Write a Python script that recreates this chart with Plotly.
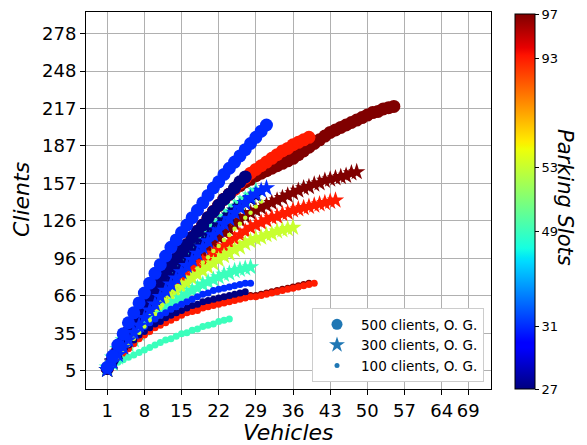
import plotly.graph_objects as go
import numpy as np

# ---------------- data ----------------
x_ticks = [1, 8, 15, 22, 29, 36, 43, 50, 57, 64, 69]
y_tickvals = list(np.linspace(5, 278, 10))
y_ticktext = ["5", "35", "66", "96", "126", "157", "187", "217", "248", "278"]

parking_labels = [27, 31, 49, 53, 93, 97]
parking_pos = [0.0, 0.1665, 0.421, 0.592, 0.881, 1.0]   # position of each label on the colour bar

# clients served for vehicles = 1, 2, 3, ...
c500_p97 = [7, 14, 22, 29, 37, 44, 51, 58, 65, 71, 78, 84, 90, 96, 102, 107, 113, 118, 123, 129, 134, 139, 144,
            148, 152, 155, 158, 160, 163, 165, 167, 169, 171, 173, 175, 177, 180, 183, 186, 189, 192, 195, 198,
            200, 202, 204, 206, 208, 210, 212, 214, 215, 217, 218, 219]
c500_p93 = [7, 14, 22, 29, 37, 44, 51, 58, 65, 71, 78, 84, 90, 96, 102, 107, 113, 118, 123, 129, 134, 139, 144,
            148, 152, 157, 161, 165, 168, 171, 174, 177, 180, 183, 185, 188, 190, 192, 194]
c500_p27 = [7, 14, 22, 29, 37, 44, 51, 58, 65, 71, 78, 84, 90, 96, 102, 107, 113, 118, 123, 129, 134, 139, 144,
            148, 153, 158, 162]
c500_p31 = [8, 17, 26, 35, 44, 52, 60, 68, 76, 84, 91, 98, 105, 111, 117, 123, 129, 135, 141, 147, 153, 158, 164,
            169, 174, 179, 184, 189, 194, 199, 204]

c300_p97 = [6, 12, 19, 25, 31, 37, 43, 49, 54, 60, 65, 70, 75, 80, 84, 89, 93, 97, 101, 105, 109, 113, 117, 120,
            124, 127, 130, 133, 135, 137, 139, 141, 143, 145, 147, 149, 151, 153, 154, 156, 157, 159, 160, 161,
            162, 163, 165, 166]
c300_p93 = [6, 12, 18, 24, 30, 35, 41, 46, 51, 56, 61, 65, 70, 74, 78, 82, 86, 89, 93, 96, 100, 103, 106, 109,
            112, 115, 118, 121, 123, 125, 127, 129, 130, 132, 133, 135, 136, 137, 138, 139, 140, 141, 142, 143]
c300_p53 = [6, 12, 17, 23, 28, 33, 38, 43, 48, 52, 57, 61, 65, 69, 73, 76, 80, 83, 86, 89, 92, 95, 98, 100, 103,
            105, 108, 110, 112, 113, 115, 116, 118, 119, 120, 121]
c300_p49 = [6, 11, 16, 21, 26, 30, 35, 39, 43, 47, 51, 54, 58, 61, 64, 67, 70, 72, 75, 77, 79, 81, 83, 84, 86, 87,
            88, 89]
c300_p27 = [6, 13, 20, 27, 34, 40, 46, 52, 58, 64, 70, 75, 81, 86, 91, 96, 101, 106, 110, 115, 119, 123, 127, 131,
            135, 138, 141, 144, 147]
c300_p49b = [8, 16, 23, 30, 37, 43, 49, 55, 61, 67, 73, 78, 84, 89, 94, 99, 104, 109, 113, 118, 122, 126, 130,
             134, 138, 141, 144, 147, 151]
c300_p31 = [6, 12, 18, 24, 30, 36, 42, 48, 54, 59, 65, 70, 75, 80, 85, 90, 95, 100, 105, 110, 115, 119, 124, 128,
            133, 137, 141, 145, 148, 151, 153]

c100_p97 = [8, 12, 16, 20, 24, 28, 32, 35, 38, 41, 43, 45, 47, 49, 51, 53, 54, 55, 57, 58, 59, 60, 61, 62, 63, 64,
            65, 66, 66, 67, 68, 69, 70, 71, 72, 73, 74, 75, 76]
c100_p93 = [7, 11, 15, 19, 23, 27, 31, 34, 37, 40, 42, 44, 46, 48, 50, 52, 53, 54, 56, 57, 58, 59, 60, 61, 62, 63,
            64, 65, 65, 66, 67, 68, 69, 70, 71, 72, 73, 74, 75, 76]
c100_p27 = [7, 12, 17, 22, 26, 30, 34, 37, 40, 43, 45, 48, 50, 52, 54, 56, 58, 59, 61, 62, 63, 64, 65, 66, 67, 68,
            69]
c100_p31 = [8, 14, 19, 24, 29, 33, 37, 41, 44, 47, 50, 52, 55, 57, 59, 61, 63, 65, 67, 68, 70, 71, 72, 73, 74, 75,
            76, 76]
c100_p49 = [6, 9, 12, 14, 16, 18, 20, 22, 24, 26, 28, 30, 31, 33, 35, 36, 38, 39, 41, 42, 43, 45, 46, 47]
c_p53_dots = [6, 11, 16, 21, 26, 31, 36, 41, 46, 51, 56, 61, 66, 70, 75, 79, 84, 88, 93, 97, 102, 106, 111, 115,
              120, 124, 129, 133, 138, 142]

legend_labels = ["500 clients, O. G.", "300 clients, O. G.", "100 clients, O. G."]

# ---------------- styling ----------------
jet = [
    [0.0, "rgb(0,0,128)"], [0.11, "rgb(0,0,255)"], [0.125, "rgb(0,0,255)"],
    [0.34, "rgb(0,219,255)"], [0.35, "rgb(0,230,247)"], [0.375, "rgb(21,255,226)"],
    [0.64, "rgb(239,255,8)"], [0.65, "rgb(247,245,0)"], [0.66, "rgb(255,236,0)"],
    [0.89, "rgb(255,19,0)"], [0.91, "rgb(232,0,0)"], [1.0, "rgb(128,0,0)"],
]
pos_of = dict(zip(parking_labels, parking_pos))

BIG, STAR, SMALL, DOT = 13, 13, 7, 4.5

series = [  # (clients, parking slots, marker symbol, size) -- drawing order bottom -> top
    (c500_p97, 97, "circle", BIG),
    (c500_p93, 93, "circle", BIG),
    (c300_p97, 97, "star", STAR),
    (c300_p93, 93, "star", STAR),
    (c300_p53, 53, "star", STAR),
    (c300_p49, 49, "star", STAR),
    (c100_p97, 97, "circle", SMALL),
    (c100_p93, 93, "circle", SMALL),
    (c100_p27, 27, "circle", SMALL),
    (c100_p31, 31, "circle", SMALL),
    (c100_p49, 49, "circle", SMALL),
    (c300_p49b, 49, "star", STAR),
    (c300_p27, 27, "star", STAR),
    (c500_p27, 27, "circle", BIG),
    (c_p53_dots, 53, "circle", DOT),
    (c300_p31, 31, "star", STAR),
    (c500_p31, 31, "circle", BIG),
]

# plot area in pixels: x 86..491, y 12..389
L, R, T, B = 86, 491, 12, 389
PW, PH = R - L, B - T

fig = go.Figure()
first = True
for clients, slots, sym, size in series:
    vehicles = list(range(1, len(clients) + 1))
    marker = dict(symbol=sym, size=size, color=[pos_of[slots]] * len(clients),
                  colorscale=jet, cmin=0, cmax=1, line=dict(width=0), opacity=1)
    if first:
        marker.update(showscale=True, colorbar=dict(
            x=(515 - L) / PW, xanchor="left", xref="paper", xpad=0, ypad=0,
            y=(B - 389) / PH, yanchor="bottom", yref="paper", len=(389 - 14) / PH, lenmode="fraction",
            thickness=20, outlinewidth=1, outlinecolor="black",
            tickvals=parking_pos, ticktext=[str(v) for v in parking_labels],
            ticks="outside", ticklen=4, tickcolor="black",
            tickfont=dict(family="DejaVu Sans", size=13, color="black"),
        ))
        first = False
    fig.add_trace(go.Scatter(x=vehicles, y=clients, mode="markers", marker=marker,
                             showlegend=False, hoverinfo="skip"))

for label, sym, size in zip(legend_labels, ["circle", "star", "circle"], [11, 12, 5]):
    fig.add_trace(go.Scatter(x=[None], y=[None], mode="markers", name=label,
                             marker=dict(symbol=sym, size=size, color="#1f77b4", line=dict(width=0))))

axis_common = dict(showgrid=True, gridcolor="#b0b0b0", gridwidth=1, showline=True, linecolor="black",
                   linewidth=1, mirror=True, ticks="outside", ticklen=5, tickcolor="black",
                   tickfont=dict(family="DejaVu Sans", size=18, color="black"), zeroline=False)

title_font = dict(family="DejaVu Sans", size=22, style="italic", color="black")

fig.update_layout(
    width=587, height=445, margin=dict(l=L, r=587 - R, t=T, b=445 - B, autoexpand=False),
    paper_bgcolor="white", plot_bgcolor="white",
    xaxis=dict(range=[-3.0, 73.3], tickvals=x_ticks, ticktext=[str(v) for v in x_ticks], **axis_common),
    yaxis=dict(range=[-9.6, 295.4], tickvals=y_tickvals, ticktext=y_ticktext, **axis_common),
    legend=dict(x=(484 - L) / PW, xanchor="right", y=(B - 382) / PH, yanchor="bottom",
                bgcolor="white", bordercolor="#cccccc", borderwidth=1,
                font=dict(family="DejaVu Sans", size=13.5, color="black"), itemsizing="trace",
                itemwidth=38, tracegroupgap=0),
    annotations=[
        dict(text="Parking Slots", xref="paper", yref="paper",
             x=(579 - L) / PW, y=(B - 197) / PH, showarrow=False, textangle=90,
             font=dict(family="DejaVu Sans", size=21, style="italic", color="black")),
        dict(text="Vehicles", xref="paper", yref="paper",
             x=(288 - L) / PW, y=(B - 433) / PH, showarrow=False, xanchor="center", yanchor="middle",
             font=title_font),
        dict(text="Clients", xref="paper", yref="paper",
             x=(21 - L) / PW, y=(B - 200) / PH, showarrow=False, textangle=-90,
             xanchor="center", yanchor="middle", font=title_font),
    ],
)

fig.write_html("out.html", post_script="document.body.style.margin='0px';",
               config={"displayModeBar": False})
